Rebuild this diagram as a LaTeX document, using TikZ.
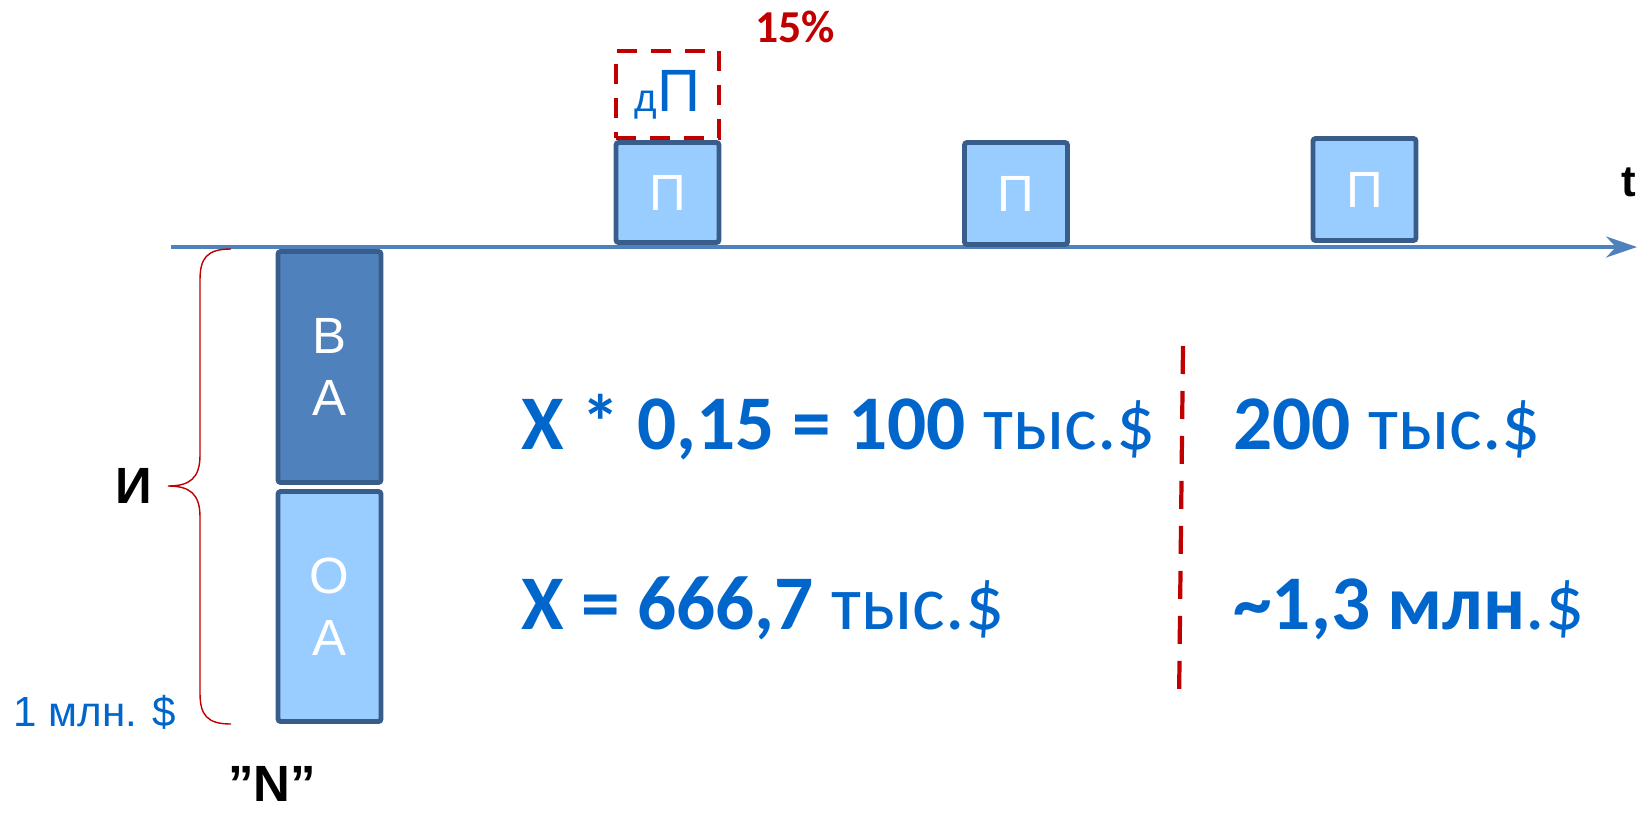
\documentclass[tikz,border=0pt]{standalone}
\usepackage{fontspec}
\setmainfont{Liberation Sans}
\newfontfamily\calib{Carlito}
\usetikzlibrary{arrows.meta,positioning}
\definecolor{boxline}{RGB}{56,93,138}
\definecolor{darkfill}{RGB}{79,129,189}
\definecolor{lightfill}{RGB}{153,204,255}
\definecolor{axisblue}{RGB}{79,129,189}
\definecolor{txtblue}{RGB}{0,102,204}
\definecolor{accent}{RGB}{192,0,0}

\begin{document}
\begin{tikzpicture}[x=0.02cm,y=-0.02cm,
  blk/.style={draw=boxline,line width=2.8pt,rounded corners=1.5pt,minimum width=2.06cm,
              text=white,align=center,inner sep=0pt,font=\fontsize{29}{35}\selectfont},
  axis/.style={-{Stealth[length=0.62cm,width=0.42cm,inset=0.2cm]},line width=2.2pt,axisblue},
  sep/.style={accent,line width=2.4pt,dash pattern=on 0.56cm off 0.34cm},
  eq/.style={txtblue,inner sep=0pt,font=\calib\fontsize{44}{50}\selectfont},
  lbl/.style={inner sep=0pt}
]
\useasboundingbox (0,0) rectangle (1645,812);

% time axis
\coordinate (ax0) at (171,247);
\coordinate (ax1) at (1637,247);
\draw[axis] (ax0) -- (ax1);
\node[lbl,font=\bfseries\fontsize{25}{28}\selectfont] (t) at (1629,182) {t};

% investment column
\node[blk,fill=darkfill,minimum height=4.62cm] (va) at (329.5,367)   {В\\А};
\node[blk,fill=lightfill,minimum height=4.6cm] (oa) at (329.5,606.5) {О\\А};

% profit boxes
\node[blk,fill=lightfill,minimum height=2.0cm]  (p1) at (667.5,192.5) {П};
\node[blk,fill=lightfill,minimum height=2.04cm] (p2) at (1016,193.5)  {П};
\node[blk,fill=lightfill,minimum height=2.04cm] (p3) at (1364.5,189.5) {П};
\node[draw=accent,line width=2.6pt,dash pattern=on 0.4cm off 0.28cm,minimum width=2.06cm,
      minimum height=1.74cm,inner sep=0pt,text=txtblue] (dp) at (667.5,94.5)
      {{\fontsize{22}{24}\selectfont д}{\fontsize{34}{38}\selectfont П}};
\node[lbl,accent,font=\calib\bfseries\fontsize{26}{28}\selectfont,anchor=base west] (pct) at (755,42) {15\%};

% brace
\draw[accent,line width=0.8pt] (231,249) .. controls (207,249) and (200,258) .. (200,280) -- (200,455)
  .. controls (200,478) and (190,486) .. (168,486) .. controls (190,486) and (200,494) .. (200,517)
  -- (200,693) .. controls (200,715) and (207,724) .. (231,724);
\node[lbl,font=\bfseries\fontsize{29}{35}\selectfont] (inv) at (134,486) {И};
\node[lbl,txtblue,font=\fontsize{24}{28}\selectfont,anchor=base west] (mln) at (13,726) {1 млн. \$};
\node[lbl,font=\bfseries\fontsize{29}{35}\selectfont] (nn) at (272,784) {”N”};

% calculations
\coordinate (s0) at (1183,346);
\coordinate (s1) at (1179,705);
\draw[sep] (s0) -- (s1);
\node[eq,anchor=base west] (eq1) at (521,449) {\textbf{X * 0,15 = 100} тыс.\$};
\node[eq,anchor=base west] (eq2) at (521,629) {\textbf{X = 666,7} тыс.\$};
\node[eq,anchor=base west] (eq3) at (1233,449) {\textbf{200} тыс.\$};
\node[eq,anchor=base west] (eq4) at (1233,629) {\textbf{\textasciitilde1,3 млн}.\$};
\end{tikzpicture}
\end{document}
